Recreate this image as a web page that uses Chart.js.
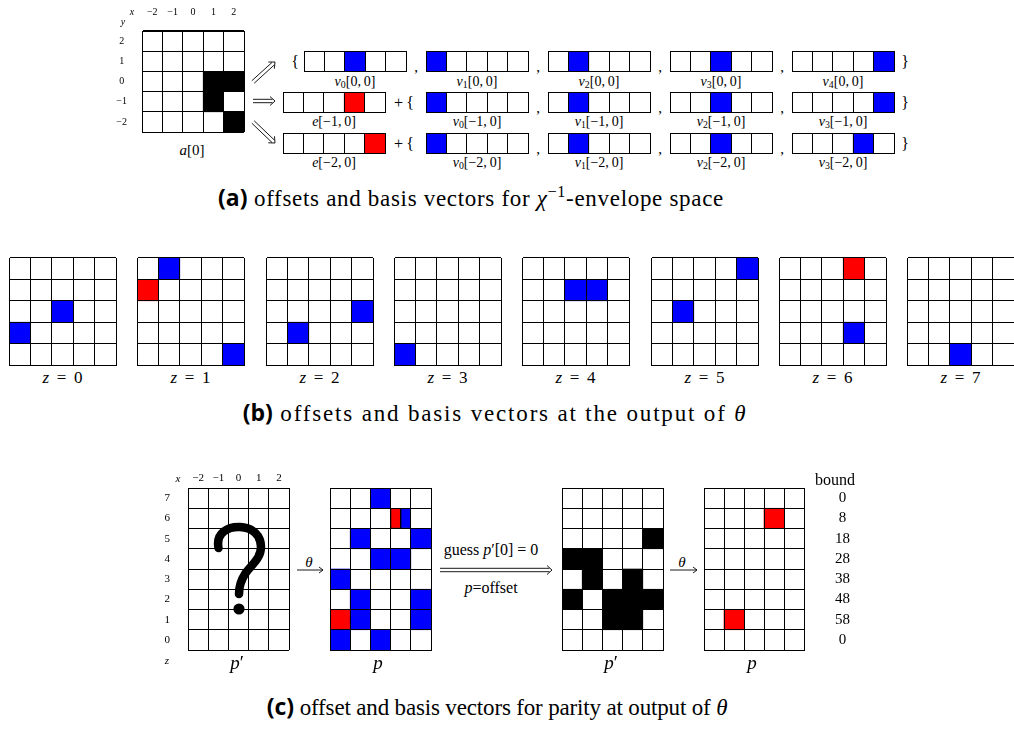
<!DOCTYPE html>
<html>
<head>
<meta charset="utf-8">
<script src="https://cdn.jsdelivr.net/npm/chart.js@4"></script>
<style>
  html, body { margin: 0; padding: 0; background: #fff; }
  #fig { position: relative; width: 1014px; height: 729px; overflow: hidden;
         font-family: "Liberation Serif", "Times New Roman", serif; color: #000; }
  #fig canvas { position: absolute; }
  .t { position: absolute; transform: translate(-50%, -50%); white-space: nowrap; line-height: 1; }
  .t sub { font-size: 70%; vertical-align: -0.25em; line-height: 0; }
  .t sup { font-size: 70%; vertical-align: 0.55em; line-height: 0; }
  .cap b { font-family: "Open Sans", "DejaVu Sans", sans-serif; font-weight: 700; letter-spacing: 0; }
  #arrows { position: absolute; left: 0; top: 0; pointer-events: none; }
</style>
</head>
<body>
<div id="fig"></div>
<script>
// ---------------- data ----------------
// (a) slice a[0] over x = -2..2, y = -2..2 : set cells as [x, y]
const sliceX = [-2, -1, 0, 1, 2];
const sliceY = [-2, -1, 0, 1, 2];
const sliceSet = [[1, 0], [2, 0], [1, -1], [2, -2]];
// basis vectors: x position of the single set bit
const basisAt00 = [0, -2, -1, 0, 2];        // v0..v4 [0,0]
const offsetAtM10 = 1;                       // e[-1,0]
const basisAtM10 = [-2, -1, 0, 2];           // v0..v3 [-1,0]
const offsetAtM20 = 2;                       // e[-2,0]
const basisAtM20 = [-2, -1, 0, 1];           // v0..v3 [-2,0]

// (b) 5x5 planes z = 0..7 : cells as [col, row], row 0 at the bottom
const planeCols = [0, 1, 2, 3, 4];
const planeRows = [0, 1, 2, 3, 4];
const planeZ = [0, 1, 2, 3, 4, 5, 6, 7];
const planeBasis = [
  [[2, 2], [0, 1]],
  [[1, 4], [4, 0]],
  [[4, 2], [1, 1]],
  [[0, 0]],
  [[2, 3], [3, 3]],
  [[4, 4], [1, 2]],
  [[3, 1]],
  [[2, 0]]
];
const planeOffset = [[], [[0, 3]], [], [], [], [], [[3, 4]], []];

// (c) parity over x = -2..2, z = 0..7 : cells as [x, z]
const parX = [-2, -1, 0, 1, 2];
const parZ = [0, 1, 2, 3, 4, 5, 6, 7];
const thetaBasis = [[0, 7], [-1, 5], [2, 5], [0, 4], [1, 4], [-2, 3], [-1, 2], [2, 2],
                    [-1, 1], [2, 1], [-2, 0], [0, 0]];
const thetaOffset = [[-2, 1]];
const splitOffset = [[1, 6]];   // left half of a shared cell
const splitBasis = [[1, 6]];    // right half of a shared cell
const guessSet = [[2, 5], [-2, 4], [-1, 4], [-1, 3], [1, 3], [-2, 2], [0, 2], [1, 2], [2, 2],
                  [0, 1], [1, 1]];
const guessOut = [[1, 6], [-1, 1]];
const bounds = [0, 58, 48, 38, 28, 18, 8, 0];   // indexed by z

const BLUE = '#0000ff', RED = '#ff0000', BLACK = '#000000';
const FONT = '"Liberation Serif", "Times New Roman", serif';
const fmt = v => String(v).replace('-', '\u2212');
const fig = document.getElementById('fig');

// ---------------- one cell grid = one bar chart ----------------
function gridChart(o) {
  const xTopH = o.xTicks ? o.xTicks.h : 0;
  const yLeftW = o.yTicks ? o.yTicks.w : 0;
  const yRightW = o.yRight ? o.yRight.w : 0;
  const W = 1 + yLeftW + o.w + yRightW + 2;
  const H = 1 + xTopH + o.h + 2;
  const cv = document.createElement('canvas');
  cv.width = W; cv.height = H;
  cv.style.left = (o.left - 1 - yLeftW) + 'px';
  cv.style.top = (o.top - 1 - xTopH) + 'px';
  cv.style.width = W + 'px'; cv.style.height = H + 'px';
  fig.appendChild(cv);

  const xLabels = o.xVals.map(fmt);
  const yMin = Math.min(...o.yVals) - 0.5, yMax = Math.max(...o.yVals) + 0.5;
  const rowTicks = s => { s.ticks = o.yVals.map(v => ({ value: v })); };
  const fixX = s => { s.height = xTopH; s.paddingLeft = 0; s.paddingRight = 0; };
  const fixY = w => s => { s.width = w; s.paddingTop = 0; s.paddingBottom = 0; };

  const datasets = o.sets.map(s => ({
    data: s.cells.map(([cx, cy]) => ({ x: xLabels[o.xVals.indexOf(cx)], y: [cy - 0.5, cy + 0.5] })),
    backgroundColor: s.color,
    borderColor: BLACK,
    borderWidth: s.half ? 1 : 0,
    borderSkipped: false,
    grouped: !!s.half,
    categoryPercentage: 1,
    barPercentage: 1
  }));

  const gridOpts = { offset: true, color: BLACK, lineWidth: 1, drawTicks: false, z: 1 };
  const scales = {
    x: {
      type: 'category', labels: xLabels, offset: true,
      position: o.xTicks ? 'top' : 'bottom',
      grid: gridOpts,
      border: { display: true, color: BLACK, width: 1, z: 2 },
      ticks: o.xTicks
        ? { display: true, color: BLACK, autoSkip: false, maxRotation: 0, minRotation: 0,
            padding: o.xTicks.pad, font: { family: FONT, size: o.xTicks.size } }
        : { display: false },
      afterFit: fixX
    },
    y: {
      type: 'linear', min: yMin, max: yMax,
      grid: gridOpts,
      border: { display: true, color: BLACK, width: 1, z: 2 },
      afterBuildTicks: rowTicks,
      ticks: o.yTicks
        ? { display: true, color: BLACK, autoSkip: false, crossAlign: 'center',
            padding: o.yTicks.pad, font: { family: FONT, size: o.yTicks.size },
            callback: v => fmt(v) }
        : { display: false },
      afterFit: fixY(yLeftW)
    }
  };
  if (o.yRight) {
    scales.y2 = {
      type: 'linear', position: 'right', min: yMin, max: yMax,
      grid: { display: false }, border: { display: false },
      afterBuildTicks: rowTicks,
      ticks: { display: true, color: BLACK, autoSkip: false, crossAlign: 'center',
               padding: o.yRight.pad, font: { family: FONT, size: o.yRight.size },
               callback: v => o.yRight.labels[o.yVals.indexOf(v)] },
      afterFit: fixY(yRightW)
    };
  }

  return new Chart(cv, {
    type: 'bar',
    data: { labels: xLabels, datasets },
    options: {
      responsive: false, animation: false, devicePixelRatio: 1, events: [],
      layout: { autoPadding: false, padding: { left: 1, top: 1, right: 2, bottom: 2 } },
      plugins: { legend: { display: false }, tooltip: { enabled: false } },
      scales
    }
  });
}

function label(x, y, html, size, cls) {
  const d = document.createElement('div');
  d.className = 't' + (cls ? ' ' + cls : '');
  d.style.left = x + 'px'; d.style.top = y + 'px'; d.style.fontSize = size + 'px';
  d.innerHTML = html;
  fig.appendChild(d);
  return d;
}
function fitWidth(el, target) {
  const w = el.getBoundingClientRect().width;
  const n = el.textContent.length;
  el.style.letterSpacing = ((target - w) / n).toFixed(2) + 'px';
}

// ---------------- (a) ----------------
gridChart({ left: 142, top: 31, w: 102, h: 101, xVals: sliceX, yVals: sliceY,
            sets: [{ cells: sliceSet, color: BLACK }],
            xTicks: { h: 30, pad: 13, size: 10 }, yTicks: { w: 32, pad: 15, size: 10 } });
label(132, 12, '<i>x</i>', 10);
label(123, 22, '<i>y</i>', 10);
label(192, 150, '<i>a</i>[0]', 15);

const VW = 102, VH = 20;
const rowTop = [51, 92, 133];
const rowLabelY = [82, 122, 163];
const basisLeft = [426, 548, 670, 792];
const vec = (left, top, x, color) =>
  gridChart({ left, top, w: VW, h: VH, xVals: sliceX, yVals: [0], sets: [{ cells: [[x, 0]], color }] });
const vLabel = (i, tag) => '<i>v</i><sub>' + i + '</sub>[' + tag + ']';

// row 1 : basis at [0,0]
[304].concat(basisLeft).forEach((left, i) => {
  vec(left, rowTop[0], basisAt00[i], BLUE);
  label(left + VW / 2, rowLabelY[0], vLabel(i, '0,&thinsp;0'), 14);
});
// rows 2 and 3 : offset + basis
[[offsetAtM10, basisAtM10, '\u22121,&thinsp;0'], [offsetAtM20, basisAtM20, '\u22122,&thinsp;0']]
  .forEach(([off, basis, tag], r) => {
    const top = rowTop[r + 1], ly = rowLabelY[r + 1];
    vec(283, top, off, RED);
    label(283 + VW / 2, ly, '<i>e</i>[' + tag + ']', 14);
    basis.forEach((x, i) => {
      vec(basisLeft[i], top, x, BLUE);
      label(basisLeft[i] + VW / 2, ly, vLabel(i, tag), 14);
    });
  });
// braces and commas
label(295, 62, '{', 16);
label(404, 103, '+&thinsp;{', 16);
label(404, 144, '+&thinsp;{', 16);
[62, 103, 144].forEach(y => label(905, y, '}', 16));
[416, 538, 660, 782].forEach(x => label(x, 67, ',', 15));
[538, 660, 782].forEach(x => { label(x, 108, ',', 15); label(x, 149, ',', 15); });

const capA = label(471, 198, '<b>(a)</b> offsets and basis vectors for <i>χ</i><sup>\u22121</sup>-envelope space', 23, 'cap');
fitWidth(capA, 508);

// ---------------- (b) ----------------
const planeLeft = [9, 137, 266, 394, 522, 651, 779, 907];
planeZ.forEach((z, i) => {
  gridChart({ left: planeLeft[i], top: 258, w: 107, h: 107, xVals: planeCols, yVals: planeRows,
              sets: [{ cells: planeBasis[i], color: BLUE }, { cells: planeOffset[i], color: RED }] });
  label(planeLeft[i] + 53.5, 377, '<i>z</i>&thinsp; = &thinsp;' + z, 17);
});
const capB = label(495, 413, '<b>(b)</b> offsets and basis vectors at the output of <i>θ</i>', 23, 'cap');
fitWidth(capB, 510);

// ---------------- (c) ----------------
gridChart({ left: 188, top: 488, w: 101, h: 162, xVals: parX, yVals: parZ, sets: [],
            xTicks: { h: 20, pad: 3, size: 11 }, yTicks: { w: 30, pad: 18, size: 11 } });
label(178, 478, '<i>x</i>', 11);
label(167, 660, '<i>z</i>', 11);
gridChart({ left: 330, top: 488, w: 101, h: 162, xVals: parX, yVals: parZ,
            sets: [{ cells: thetaBasis, color: BLUE }, { cells: thetaOffset, color: RED },
                   { cells: splitOffset, color: RED, half: true }, { cells: splitBasis, color: BLUE, half: true }] });
gridChart({ left: 562, top: 488, w: 101, h: 162, xVals: parX, yVals: parZ,
            sets: [{ cells: guessSet, color: BLACK }] });
gridChart({ left: 704, top: 488, w: 100, h: 162, xVals: parX, yVals: parZ,
            sets: [{ cells: guessOut, color: RED }],
            yRight: { w: 50, pad: 23, size: 15, labels: bounds } });

label(237, 662, '<i>p</i>\u2032', 19);
label(378, 662, '<i>p</i>', 19);
label(611, 662, '<i>p</i>\u2032', 19);
label(752, 662, '<i>p</i>', 19);
label(835, 480, 'bound', 16);
label(309, 562, '<i>θ</i>', 15);
label(682, 562, '<i>θ</i>', 15);
label(491, 550, 'guess <i>p</i>\u2032[0] = 0', 16);
label(491, 588, '<i>p</i>=offset', 16);

const capC = label(497, 707, '<b>(c)</b> offset and basis vectors for parity at output of <i>θ</i>', 23, 'cap');
fitWidth(capC, 460);

// ---------------- arrows and the question mark ----------------
function arrowSvg() {
  const parts = [];
  const dbl = (x1, y1, x2, y2) => {
    const L = Math.hypot(x2 - x1, y2 - y1), ux = (x2 - x1) / L, uy = (y2 - y1) / L, nx = -uy, ny = ux, g = 1.7;
    const ex = x2 - ux * 2.5, ey = y2 - uy * 2.5;
    [g, -g].forEach(s => parts.push(`<line x1="${x1 + nx * s}" y1="${y1 + ny * s}" x2="${ex + nx * s}" y2="${ey + ny * s}"/>`));
    parts.push(`<polyline fill="none" points="${x2 - ux * 5 + nx * 4.5},${y2 - uy * 5 + ny * 4.5} ${x2},${y2} ${x2 - ux * 5 - nx * 4.5},${y2 - uy * 5 - ny * 4.5}"/>`);
  };
  const single = (x1, y, x2) => {
    parts.push(`<line x1="${x1}" y1="${y}" x2="${x2}" y2="${y}"/>`);
    parts.push(`<polyline fill="none" points="${x2 - 4},${y - 3} ${x2},${y} ${x2 - 4},${y + 3}"/>`);
  };
  dbl(253, 82, 275, 62);
  dbl(253, 101, 275, 101);
  dbl(253, 122, 275, 143);
  dbl(440, 570, 552, 570);
  single(297, 570, 323);
  single(670, 570, 697);
  const q = `<path d="M218.5,548 C215.5,532 229,526.5 240,527 C253,527.5 261,536 261,547 C261,559 250,566 245,574 C240.5,581 239,587 239,594"
              fill="none" stroke="#000" stroke-width="8.5" stroke-linecap="round"/>
             <circle cx="239" cy="609" r="5.6" fill="#000" stroke="none"/>`;
  return `<svg id="arrows" width="1014" height="729" xmlns="http://www.w3.org/2000/svg">
            <g stroke="#000" stroke-width="0.9">${parts.join('')}</g>${q}</svg>`;
}
fig.insertAdjacentHTML('beforeend', arrowSvg());
</script>
</body>
</html>
